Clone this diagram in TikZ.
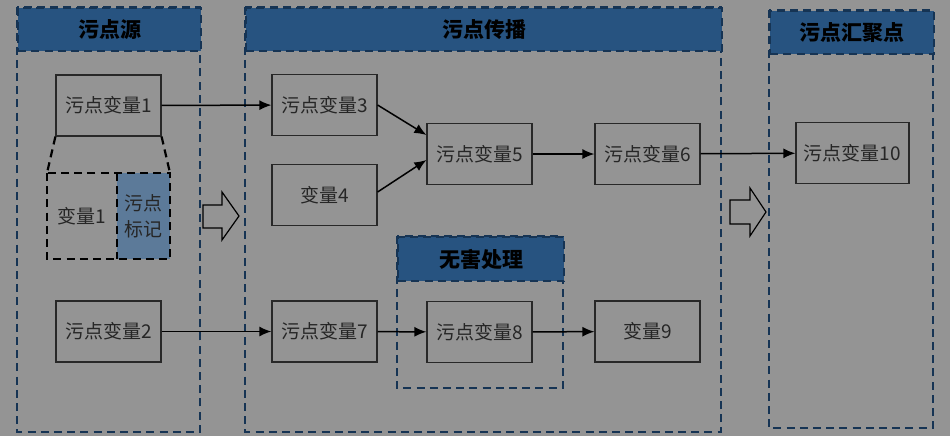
\documentclass[tikz,border=0pt]{standalone}
\usepackage{fontspec}
\setmainfont{Noto Sans CJK SC}
\usetikzlibrary{arrows.meta}

\definecolor{bggray}{RGB}{148,148,148}
\definecolor{hdrblue}{RGB}{39,83,128}
\definecolor{framenavy}{RGB}{22,52,84}
\definecolor{markblue}{RGB}{92,122,153}
\definecolor{boxline}{RGB}{40,40,40}

\tikzset{
    var/.style={draw=boxline, line width=0.6pt, minimum width=52.5pt, minimum height=30.5pt,
        inner sep=1pt, font=\fontsize{9.5}{11}\selectfont, text=black!85},
    panel/.style={draw=framenavy, line width=1.1pt, dash pattern=on 4pt off 2.6pt},
    hdr/.style={fill=hdrblue, draw=framenavy, line width=1.1pt, dash pattern=on 4pt off 2.6pt,
        anchor=north west, font=\fontsize{10.5}{12}\selectfont\bfseries, text=black, inner sep=0pt},
    flow/.style={-{Latex[length=6pt,width=5pt]}, line width=0.75pt, black},
    fatarrow/.style={draw=black, line width=0.6pt, fill=bggray}
}

\begin{document}
\begin{tikzpicture}[x=0.5pt, y=-0.5pt]

\fill[bggray] (0,0) rectangle (950,436);
\useasboundingbox (0,0) rectangle (950,436);

% Panels
\draw[panel] (17,7) rectangle (200,432);
\node[hdr, minimum width=91.5pt, minimum height=21.5pt] (hsrc) at (17,7) {污点源};

\draw[panel] (245,7) rectangle (721,432);
\node[hdr, minimum width=238pt, minimum height=21.5pt] (hprop) at (245,7) {污点传播};

\draw[panel] (769,10) rectangle (933,428);
\node[hdr, minimum width=82pt, minimum height=21.5pt] (hsink) at (769,10) {污点汇聚点};

\draw[panel] (397,236) rectangle (563,388);
\node[hdr, minimum width=83pt, minimum height=22pt] (hsafe) at (397,236) {无害处理};

% Variables
\node[var] (v1) at (108.5,105.5) {污点变量1};
\node[var] (v2) at (108.5,331.5) {污点变量2};
\node[var] (v3) at (324.5,105) {污点变量3};
\node[var] (v4) at (324.5,195) {变量4};
\node[var] (v5) at (479.5,154) {污点变量5};
\node[var] (v6) at (647.5,154) {污点变量6};
\node[var] (v7) at (324.5,331.5) {污点变量7};
\node[var] (v8) at (479.5,332) {污点变量8};
\node[var] (v9) at (647.5,331.5) {变量9};
\node[var, minimum width=56.5pt] (v10) at (852.5,153) {污点变量10};

% Zoom of variable 1
\fill[markblue] (117,173) rectangle (170,259);
\draw[line width=1.1pt, dash pattern=on 4pt off 2.6pt] (47,173) rectangle (170,259);
\draw[line width=1.1pt, dash pattern=on 4pt off 2.6pt] (117,173) -- (117,259);
\node[font=\fontsize{9.5}{11}\selectfont, text=black!85] (v1a) at (82,216) {变量1};
\node[font=\fontsize{9.5}{13}\selectfont, text=black!85, align=center] (v1b) at (143.5,216) {污点\\标记};
\draw[line width=1.1pt, dash pattern=on 4pt off 2.6pt] (v1.south west) -- (47,173);
\draw[line width=1.1pt, dash pattern=on 4pt off 2.6pt] (v1.south east) -- (170,173);

% Flows
\draw[flow] (v1) -- (v3);
\draw[flow] (v3.east) -- ([yshift=9.5pt]v5.west);
\draw[flow] ([yshift=1.5pt]v4.east) -- ([yshift=-3pt]v5.west);
\draw[flow] (v5) -- (v6);
\draw[flow] (v6) -- (v10);
\draw[flow] (v2) -- (v7);
\draw[flow] (v7) -- (v8);
\draw[flow] (v8) -- (v9);

% Stage arrows
\draw[fatarrow] (203,205) -- (222,205) -- (222,192) -- (239,216) -- (222,240) -- (222,228) -- (203,228) -- cycle;
\draw[fatarrow] (730,200) -- (750,200) -- (750,188) -- (766,212) -- (750,236) -- (750,224) -- (730,224) -- cycle;

\end{tikzpicture}
\end{document}
